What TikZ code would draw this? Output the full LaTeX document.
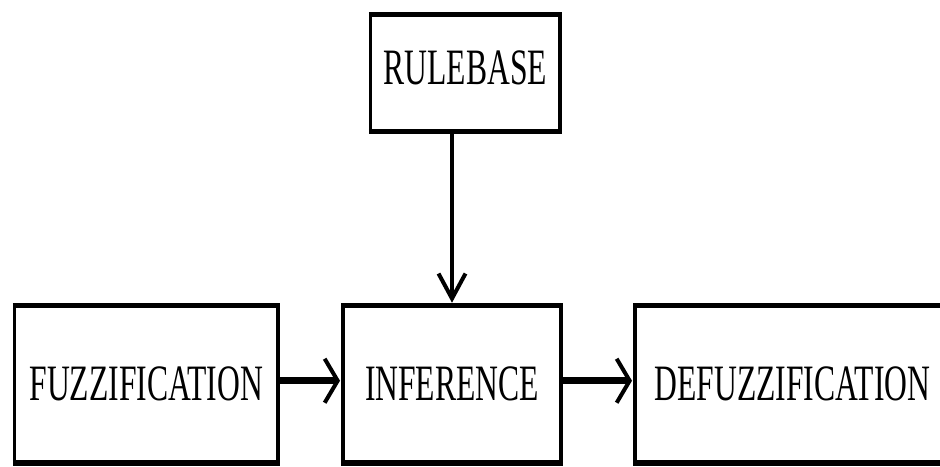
\documentclass[tikz,border=0pt]{standalone}
\usepackage{fontspec}
\usetikzlibrary{arrows.meta}
\newfontfamily\condserif[FakeStretch=0.62]{Liberation Serif}
\tikzset{
  blockbox/.style={draw, line width=3.5pt, outer sep=0pt, inner sep=0pt,
    font=\condserif\fontsize{51}{51}\selectfont, align=center},
  hedge/.style={line width=5.5pt, shorten <=-1.75pt, shorten >=-1.75pt},
  harrow/.style={line width=6.5pt, -{Straight Barb[length=13pt,width=44pt,line width=4pt]}, shorten >=3pt},
  varrow/.style={line width=4pt, -{Straight Barb[length=25pt,width=27pt,line width=4pt]}, shorten >=2.75pt}
}
\begin{document}
\begin{tikzpicture}[x=1pt,y=1pt]
\useasboundingbox (0,0) rectangle (940,466);
\clip (0,0) rectangle (940,466);
\node[blockbox, minimum width=263.5pt, minimum height=157.5pt] (F) at (146.25,81.75) {FUZZIFICATION};
\node[blockbox, minimum width=218pt, minimum height=157.5pt] (I) at (452,81.75) {INFERENCE};
\node[blockbox, minimum width=315pt, minimum height=157.5pt] (D) at (792.5,81.75) {DEFUZZIFICATION};
\node[blockbox, minimum width=189.5pt, minimum height=117pt, text depth=11pt] (R) at (465.25,393) {RULEBASE};
\foreach \n in {F,I,D,R}{
  \draw[hedge] (\n.north west) -- (\n.north east);
  \draw[hedge] (\n.south west) -- (\n.south east);
}
\draw[harrow] ([yshift=3.5pt]F.east) -- ([yshift=3.5pt]I.west);
\draw[harrow] ([yshift=3.5pt]I.east) -- ([yshift=3.5pt]D.west);
\draw[varrow] (I.north |- R.south) -- (I.north);
\end{tikzpicture}
\end{document}
